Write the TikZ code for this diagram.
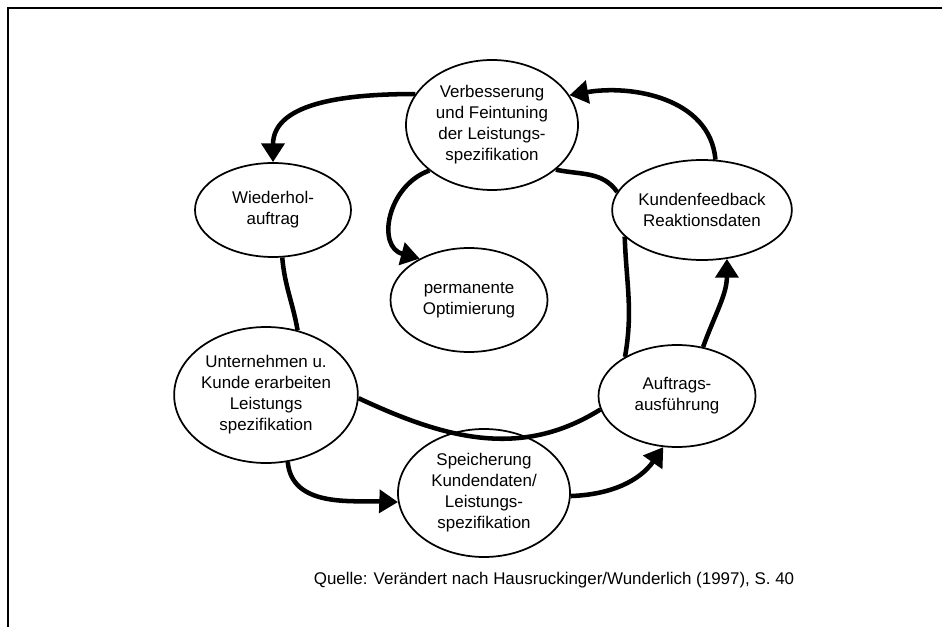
\documentclass[tikz,border=0pt]{standalone}
\usepackage{fontspec}
\setmainfont{Liberation Sans}
\usepackage{tikz}
\usetikzlibrary{positioning,arrows.meta,shapes.geometric}

\tikzset{
  stage/.style={ellipse, draw, line width=1.3pt, inner sep=0pt, align=center,
                font=\fontsize{12.7}{15.75}\selectfont},
  flow/.style={line width=3.4pt, -{Triangle[length=14pt,width=17pt]}},
  ring/.style={line width=3.4pt},
}

\begin{document}
\begin{tikzpicture}[x=0.75pt,y=-0.75pt]
                \useasboundingbox (0,0) rectangle (942,627);
                \draw[line width=1.5pt] (8,627) -- (8,8) -- (942,8);

                \node[stage, minimum width=129pt,   minimum height=97.5pt] (V) at (492,125)
                      {Verbesserung\\und Feintuning\\der Leistungs-\\spezifikation};
                \node[stage, minimum width=117pt,   minimum height=70.5pt] (W) at (273,210)
                      {Wiederhol-\\auftrag};
                \node[stage, minimum width=117.75pt, minimum height=78pt]  (P) at (469,300)
                      {permanente\\Optimierung};
                \node[stage, minimum width=117pt,   minimum height=75pt]   (K) at (702,210)
                      {Kundenfeedback\\Reaktionsdaten};
                \node[stage, minimum width=136.5pt, minimum height=102pt]  (U) at (266,395)
                      {Unternehmen u.\\Kunde erarbeiten\\Leistungs\\spezifikation};
                \node[stage, minimum width=129pt,   minimum height=96pt]   (S) at (484,493)
                      {Speicherung\\Kundendaten/\\Leistungs-\\spezifikation};
                \node[stage, minimum width=117.75pt, minimum height=76.5pt] (A) at (677,396)
                      {Auftrags-\\ausführung};

                \node[font=\fontsize{12.7}{15.75}\selectfont] (src) at (554,580)
                      {Quelle: Verändert nach Hausruckinger/Wunderlich (1997), S. 40};

                \path[flow]
                (V.158) edge [out=180, in=90]  (W.north)
                (V.216) edge [out=200, in=165, looseness=1.3] (P.140)
                (K.75)  edge [out=95,  in=10]  (V.21)
                (A.62)  edge [out=70,  in=-90] (K.297)
                (U.288) edge [out=-85, in=178] (S.186)
                (S.358) edge [out=2,   in=235] (A.255);

                \path[ring]
                (W.281) edge [out=-85, in=100] (U.64)
                (V.325) edge [out=-12, in=125] (K.168)
                (K.199) edge [out=-88, in=80]  (A.143)
                (U.358) edge [out=-25, in=212] (A.190);
\end{tikzpicture}
\end{document}
